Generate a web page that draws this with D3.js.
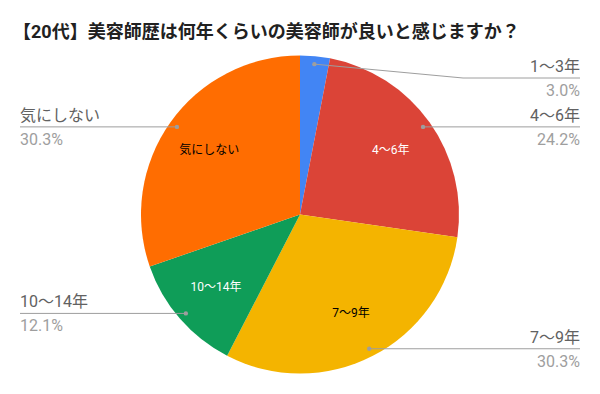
<!DOCTYPE html>
<html lang="ja">
<head>
  <meta charset="UTF-8">
  <title>美容師歴アンケート</title>
  <script src="https://cdn.jsdelivr.net/npm/d3@7"></script>
  <style>
    body { margin: 0; background: #fff; }
    text { font-family: Roboto, "Noto Sans CJK JP", sans-serif; }
  </style>
</head>
<body>
<div id="chart"></div>

<script>
const title = "【20代】美容師歴は何年くらいの美容師が良いと感じますか？";
const categories = ["1〜3年", "4〜6年", "7〜9年", "10〜14年", "気にしない"];
const counts = [1, 8, 10, 4, 10];
const colors = ["#4285f4", "#db4437", "#f4b400", "#0f9d58", "#ff6d01"];
const innerTextColors = ["#fff", "#fff", "#000", "#fff", "#000"];

const width = 600, height = 394;
const cx = 300, cy = 214.5, R = 159;

const svg = d3.select("#chart").append("svg")
  .attr("width", width)
  .attr("height", height);

svg.append("text")
  .attr("x", 13)
  .attr("y", 31)
  .attr("dominant-baseline", "central")
  .attr("font-size", "18px")
  .attr("font-weight", "bold")
  .attr("fill", "#212121")
  .text(title);

const total = d3.sum(counts);
const pct = d3.format(".1%");
const slices = categories.map((c, i) => ({ name: c, value: counts[i], color: colors[i], ink: innerTextColors[i] }));

const pie = d3.pie().value(d => d.value).sort(null);
const arcs = pie(slices);
const arc = d3.arc().innerRadius(0).outerRadius(R);

const g = svg.append("g").attr("transform", `translate(${cx},${cy})`);

g.selectAll("path")
  .data(arcs)
  .join("path")
  .attr("d", arc)
  .attr("fill", d => d.data.color);

// ラベル（スライス内）
const inner = d3.arc().innerRadius(R * 0.7).outerRadius(R * 0.7);
g.selectAll("text.inner")
  .data(arcs.filter(d => d.value / total > 0.05))
  .join("text")
  .attr("class", "inner")
  .attr("transform", d => `translate(${inner.centroid(d)})`)
  .attr("text-anchor", "middle")
  .attr("dominant-baseline", "central")
  .attr("font-size", "12px")
  .attr("fill", d => d.data.ink)
  .text(d => d.data.name);

// 引き出し線と外側ラベル
const dotArc = d3.arc().innerRadius(R * 0.95).outerRadius(R * 0.95);
const labels = arcs.map(d => {
  const [x, y] = dotArc.centroid(d);
  const mid = (d.startAngle + d.endAngle) / 2;
  return { d, x, y, right: mid < Math.PI, ly: y };
});

const minY = -R + 22.5;
["right", "left"].forEach(side => {
  const group = labels.filter(l => side === "right" ? l.right : !l.right).sort((a, b) => a.y - b.y);
  let prev = -Infinity;
  group.forEach(l => {
    l.ly = Math.max(l.y, prev + 46, minY);
    prev = l.ly;
  });
});

const lineX = 280;
const outer = g.append("g");
labels.forEach(l => {
  const s = l.right ? 1 : -1;
  const elbow = s * (R + 4);
  const end = s * lineX;
  outer.append("polyline")
    .attr("points", [[l.x, l.y], [elbow, l.ly], [end, l.ly]].join(" "))
    .attr("fill", "none")
    .attr("stroke", "#9e9e9e")
    .attr("stroke-width", 1);
  outer.append("circle")
    .attr("cx", l.x).attr("cy", l.y).attr("r", 2.2)
    .attr("fill", "#9e9e9e");
  outer.append("text")
    .attr("x", end).attr("y", l.ly - 11.5)
    .attr("text-anchor", l.right ? "end" : "start")
    .attr("dominant-baseline", "central")
    .attr("font-size", "16px")
    .attr("fill", "#616161")
    .text(l.d.data.name);
  outer.append("text")
    .attr("x", end).attr("y", l.ly + 12.5)
    .attr("text-anchor", l.right ? "end" : "start")
    .attr("dominant-baseline", "central")
    .attr("font-size", "16px")
    .attr("fill", "#9e9e9e")
    .text(pct(l.d.value / total));
});
</script>

</body>
</html>
